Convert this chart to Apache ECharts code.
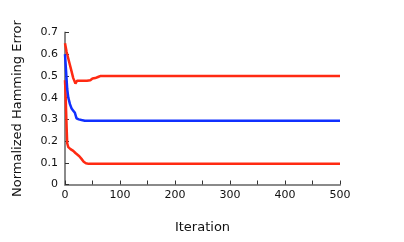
<!DOCTYPE html>
<html>
<head>
<meta charset="utf-8">
<script src="https://cdn.jsdelivr.net/npm/echarts@6/dist/echarts.min.js"></script>
<style>html,body{margin:0;padding:0;background:#fff}#c{width:404px;height:242px}</style>
</head>
<body>
<div id="c"></div>
<script>
var xTicks = [0, 100, 200, 300, 400, 500];
var yTicks = [0, 0.1, 0.2, 0.3, 0.4, 0.5, 0.6, 0.7];

var upperRedIter = [0, 3, 7, 11, 15, 19, 22, 30, 40, 46, 50, 55, 60, 65, 100, 500];
var upperRedErr  = [0.65, 0.61, 0.57, 0.53, 0.49, 0.465, 0.478, 0.478, 0.478, 0.48, 0.488, 0.49, 0.495, 0.5, 0.5, 0.5];

var blueIter = [0, 2, 4, 6, 9, 12, 15, 18, 21, 25, 30, 36, 50, 100, 500];
var blueErr  = [0.6, 0.52, 0.44, 0.40, 0.37, 0.35, 0.34, 0.33, 0.305, 0.3, 0.297, 0.294, 0.2935, 0.2935, 0.2935];

var lowerRedIter = [0, 1, 2, 3, 4, 6, 10, 15, 19, 22, 26, 30, 34, 38, 43, 60, 500];
var lowerRedErr  = [0.48, 0.42, 0.34, 0.26, 0.19, 0.172, 0.163, 0.155, 0.145, 0.14, 0.13, 0.118, 0.105, 0.098, 0.095, 0.095, 0.095];

function pairs(xs, ys) { return xs.map(function (x, i) { return [x, ys[i]]; }); }

var RED = '#ff2a12', BLUE = '#1030ff';
var font = 'DejaVu Sans';

var chart = echarts.init(document.getElementById('c'), null, {renderer: 'canvas'});
chart.setOption({
  animation: false,
  backgroundColor: '#fff',
  grid: {left: 65, right: 64, top: 32.5, bottom: 57.5, containLabel: false},
  xAxis: {
    type: 'value', min: 0, max: 500, interval: 50,
    name: 'Iteration', nameLocation: 'middle', nameGap: 37,
    nameTextStyle: {fontFamily: font, fontSize: 13, color: '#111'},
    axisLine: {show: true, lineStyle: {color: '#8a8a8a', width: 2}},
    axisTick: {show: true, inside: true, length: 4, lineStyle: {color: '#333', width: 1}},
    axisLabel: {
      fontFamily: font, fontSize: 11, color: '#111', margin: 5,
      formatter: function (v) { return xTicks.indexOf(v) >= 0 ? String(v) : ''; }
    },
    splitLine: {show: false}
  },
  yAxis: {
    type: 'value', min: 0, max: 0.7, interval: 0.1,
    name: 'Normalized Hamming Error', nameLocation: 'middle', nameGap: 41,
    nameTextStyle: {fontFamily: font, fontSize: 13, color: '#111'},
    axisLine: {show: true, lineStyle: {color: '#8a8a8a', width: 2}},
    axisTick: {show: true, inside: true, length: 4, lineStyle: {color: '#333', width: 1}},
    axisLabel: {
      fontFamily: font, fontSize: 11, color: '#111', margin: 7,
      formatter: function (v) {
        for (var i = 0; i < yTicks.length; i++) {
          if (Math.abs(yTicks[i] - v) < 1e-9) return String(yTicks[i]);
        }
        return '';
      }
    },
    splitLine: {show: false}
  },
  series: [
    {type: 'line', data: pairs(upperRedIter, upperRedErr), showSymbol: false, symbol: 'none',
     lineStyle: {color: RED, width: 2.5}, z: 2},
    {type: 'line', data: pairs(lowerRedIter, lowerRedErr), showSymbol: false, symbol: 'none',
     lineStyle: {color: RED, width: 2.5}, z: 2},
    {type: 'line', data: pairs(blueIter, blueErr), showSymbol: false, symbol: 'none',
     lineStyle: {color: BLUE, width: 2.5}, z: 3}
  ]
});
</script>
</body>
</html>
